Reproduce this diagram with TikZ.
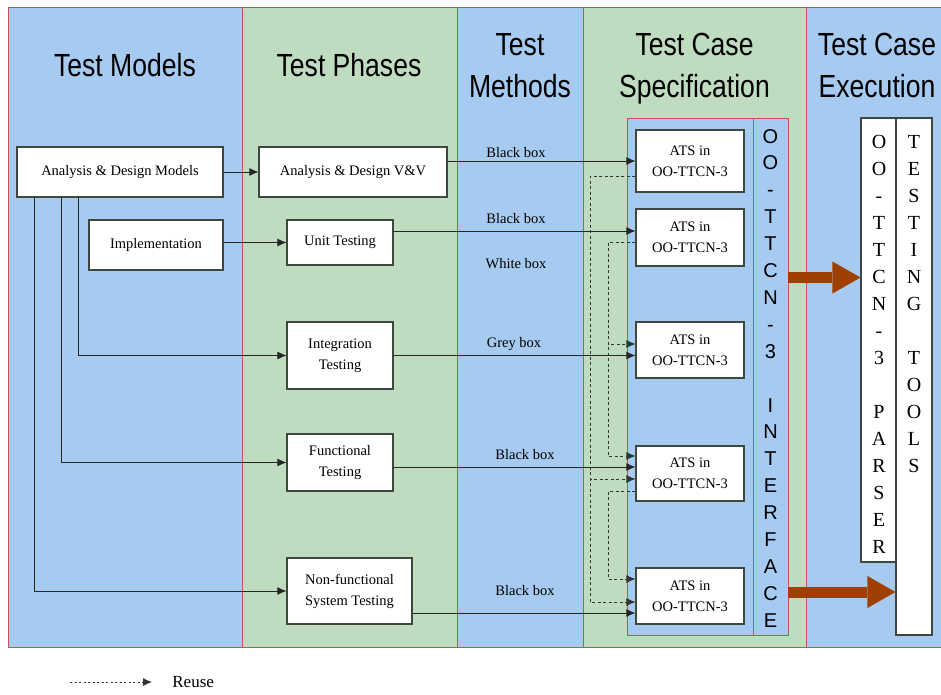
\documentclass[tikz,border=0pt]{standalone}
\usepackage{fontspec}
\setmainfont{Liberation Serif}
\newfontfamily\headfont{Liberation Sans}
\usepackage{graphicx}
\usetikzlibrary{arrows.meta}

\definecolor{skyblue}{RGB}{166,202,240}
\definecolor{moneygreen}{RGB}{192,220,192}
\definecolor{rimred}{RGB}{192,86,80}
\definecolor{boxline}{RGB}{62,72,62}
\definecolor{rust}{RGB}{160,64,0}

% column headings, a bit condensed
\newcommand{\colhead}[1]{\scalebox{0.83}[1]{\headfont\fontsize{32}{42}\selectfont\begin{tabular}[b]{@{}c@{}}#1\end{tabular}}}

\tikzset{
  box/.style={draw=boxline, fill=white, line width=1.1pt, inner sep=0pt, align=center, font=\fontsize{14.5}{21}\selectfont},
  flow/.style={draw=black!85, line width=0.9pt, -{Latex[length=9pt,width=8pt]}},
  reuse/.style={draw=black!80, line width=0.8pt, dash pattern=on 3pt off 2.5pt, -{Latex[length=9pt,width=8pt]}},
  bigarrow/.style={draw=rust, line width=11pt, -{Triangle[length=28pt,width=32pt,line width=0pt]}},
  method/.style={inner sep=0pt, anchor=base, font=\fontsize{14.5}{17}\selectfont},
  column/.style={draw=rimred, line width=0.8pt},
}

\begin{document}
\begin{tikzpicture}[x=1pt,y=-1pt]
\useasboundingbox (0,0) rectangle (941,694);

%Columns
\fill[skyblue] (8,7) rectangle (242,647);
\fill[moneygreen] (242,7) rectangle (457,647);
\fill[skyblue] (457,7) rectangle (583,647);
\fill[moneygreen] (583,7) rectangle (806,647);
\fill[skyblue] (806,7) rectangle (941,647);
\draw[column] (242,7) -- (242,647) (457,7) -- (457,647) (583,7) -- (583,647) (806,7) -- (806,647);
\draw[column] (941,7) -- (8,7) -- (8,647) -- (941,647);

% Headings
\node[anchor=base, inner sep=0pt] (hmodels) at (125,76) {\colhead{Test Models}};
\node[anchor=base, inner sep=0pt] (hphases) at (349,76) {\colhead{Test Phases}};
\node[anchor=base, inner sep=0pt] (hmethods) at (520,97) {\colhead{Test\\Methods}};
\node[anchor=base, inner sep=0pt] (hspec) at (694.5,97) {\colhead{Test Case\\Specification}};
\node[anchor=base, inner sep=0pt] (hexec) at (877,97) {\colhead{Test Case\\Execution}};

% Specification frame and interface
\node[column, fill=skyblue, minimum width=126, minimum height=517, inner sep=0pt] (atsframe) at (690,376.5) {};
\node[column, fill=skyblue, minimum width=35, minimum height=517, inner sep=0pt] (intf) at (770.5,376.5) {};
\foreach \ch [count=\i] in {O,O,-,T,T,C,N,-,3,{},I,N,T,E,R,F,A,C,E}
  \node[anchor=base, inner sep=0pt, font=\headfont\fontsize{20}{20}\selectfont] (intf-\i) at (770.5,{143+26.9*(\i-1)}) {\ch};

% Execution tools
\node[box, minimum width=36, minimum height=444] (parser) at (879,340) {};
\node[box, minimum width=36, minimum height=517] (tools) at (914,376.5) {};
\foreach \ch [count=\i] in {O,O,-,T,T,C,N,-,3,{},P,A,R,S,E,R}
  \node[anchor=base, inner sep=0pt, font=\fontsize{20}{20}\selectfont] (parser-\i) at (879,{148+27*(\i-1)}) {\ch};
\foreach \ch [count=\i] in {T,E,S,T,I,N,G,{},T,O,O,L,S}
  \node[anchor=base, inner sep=0pt, font=\fontsize{20}{20}\selectfont] (tools-\i) at (914,{148+27*(\i-1)}) {\ch};

% Models
\node[box, minimum width=206, minimum height=50] (adm) at (120,172) {Analysis \& Design Models};
\node[box, minimum width=134, minimum height=50] (impl) at (156,245) {Implementation};

% Phases
\node[box, minimum width=188, minimum height=50] (adv) at (353,172) {Analysis \& Design V\&V};
\node[box, minimum width=106, minimum height=45] (unit) at (340,242.5) {Unit Testing};
\node[box, minimum width=106, minimum height=67] (integ) at (340,355.5) {Integration\\Testing};
\node[box, minimum width=106, minimum height=57] (func) at (340,462.5) {Functional\\Testing};
\node[box, minimum width=125, minimum height=66] (nonfunc) at (349.5,591) {Non-functional\\System Testing};

% ATS boxes
\node[box, minimum width=108, minimum height=62] (ats1) at (690,161) {ATS in\\OO-TTCN-3};
\node[box, minimum width=108, minimum height=57] (ats2) at (690,237.5) {ATS in\\OO-TTCN-3};
\node[box, minimum width=108, minimum height=56] (ats3) at (690,350) {ATS in\\OO-TTCN-3};
\node[box, minimum width=108, minimum height=55] (ats4) at (690,473.5) {ATS in\\OO-TTCN-3};
\node[box, minimum width=108, minimum height=56] (ats5) at (690,596) {ATS in\\OO-TTCN-3};

% Methods
\node[method] (m1) at (516,157) {Black box};
\node[method] (m2) at (516,223) {Black box};
\node[method] (m3) at (516,268) {White box};
\node[method] (m4) at (514,347) {Grey box};
\node[method] (m5) at (525,459) {Black box};
\node[method] (m6) at (525,595) {Black box};

% Model to phase
\draw[flow] (adm) -- (adv);
\draw[flow] (impl.east) ++(0,-2.5) coordinate (i1) -- (i1 -| unit.west);
\draw[flow] ([xshift=62pt]adm.south west) |- (integ.west);
\draw[flow] ([xshift=45pt]adm.south west) |- (func.west);
\draw[flow] ([xshift=18pt]adm.south west) |- (nonfunc.west);

% Phase to ATS
\draw[flow] (adv.east |- ats1.west) -- (ats1.west);
\draw[flow] (unit.east |- ats2.west) ++(0,-6.5) -- ([yshift=6.5pt]ats2.west);
\draw[flow] (integ.east) -- (integ.east -| ats3.west);
\draw[flow] (func.east) ++(0,4.5) coordinate (f1) -- (f1 -| ats4.west);
\draw[flow] (nonfunc.east) ++(0,22) coordinate (n1) -- (n1 -| ats5.west);

% Reuse
\draw[reuse] ([yshift=-15pt]ats1.west) -- ++(-45,0) |- ([yshift=-5.5pt]ats4.west);
\draw[reuse] ([yshift=-15pt]ats1.west) -- ++(-45,0) |- ([yshift=-6pt]ats5.west);
\draw[reuse] ([yshift=-4.5pt]ats2.west) -- ++(-27,0) |- ([yshift=6pt]ats3.west);
\draw[reuse] ([yshift=-4.5pt]ats2.west) -- ++(-27,0) |- ([yshift=17.5pt]ats4.west);
\draw[reuse] ([yshift=-17.5pt]ats4.west) -- ++(-27,0) |- ([yshift=17pt]ats5.west);

% To execution
\draw[bigarrow] (intf.east |- 0,277.5) -- (parser.west |- 0,277.5);
\draw[bigarrow] (intf.east |- 0,592) -- (tools.west |- 0,592);

% Legend
\coordinate (lg) at (70,682);
\draw[reuse, dash pattern=on 2pt off 2.5pt] (lg) -- ++(82,0) node[right=20pt, inner sep=0pt, font=\fontsize{17}{20}\selectfont] (lgtext) {Reuse};
\end{tikzpicture}
\end{document}
